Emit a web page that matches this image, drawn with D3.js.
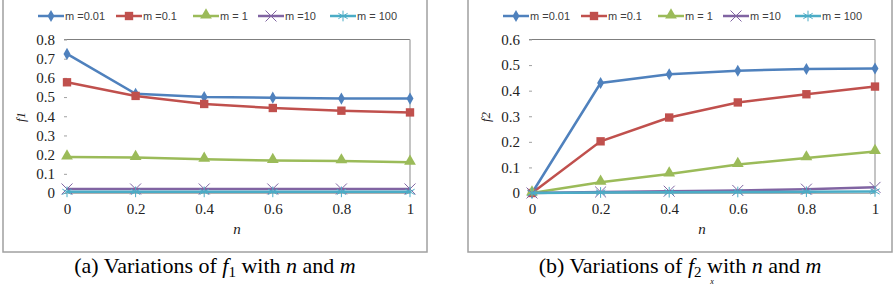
<!DOCTYPE html>
<html>
<head>
<meta charset="utf-8">
<script src="https://cdn.jsdelivr.net/npm/d3@7"></script>
<style>
  body { margin: 0; background: #fff; }
  svg { display: block; }
</style>
</head>
<body>
<div id="chart"></div>
<script>
// x values (n)
const nValues = [0, 0.2, 0.4, 0.6, 0.8, 1];
const xTickLabels = ["0", "0.2", "0.4", "0.6", "0.8", "1"];

// legend names
const seriesNames = ["m =0.01", "m =0.1", "m = 1", "m =10", "m = 100"];

// f1 values, one array per m
const f1_m001 = [0.725, 0.517, 0.500, 0.497, 0.492, 0.492];
const f1_m01  = [0.577, 0.506, 0.464, 0.443, 0.429, 0.420];
const f1_m1   = [0.187, 0.185, 0.176, 0.169, 0.167, 0.160];
const f1_m10  = [0.021, 0.021, 0.021, 0.021, 0.021, 0.021];
const f1_m100 = [0.006, 0.006, 0.006, 0.006, 0.006, 0.006];

// f2 values, one array per m
const f2_m001 = [0, 0.430, 0.464, 0.478, 0.485, 0.487];
const f2_m01  = [0, 0.202, 0.295, 0.354, 0.386, 0.416];
const f2_m1   = [0, 0.042, 0.074, 0.111, 0.137, 0.162];
const f2_m10  = [0, 0.004, 0.007, 0.010, 0.015, 0.022];
const f2_m100 = [0, 0.002, 0.003, 0.004, 0.005, 0.006];

const yTicksF1 = [0, 0.1, 0.2, 0.3, 0.4, 0.5, 0.6, 0.7, 0.8];
const yTicksF2 = [0, 0.1, 0.2, 0.3, 0.4, 0.5, 0.6];

const colors = ["#4F81BD", "#C0504D", "#9BBB59", "#8064A2", "#4BACC6"];

const SERIF = "Liberation Serif";
const SANS = "Liberation Sans";

const w = 893;
const h = 285;

const svg = d3.select("#chart")
              .append("svg")
              .attr("width", w)
              .attr("height", h);

function drawMarker(g, i, x, y, color) {
  // excel style markers
  if (i == 0) {
    g.append("path").attr("d", d3.symbol().type(d3.symbolDiamond).size(42)())
     .attr("transform", "translate(" + x + "," + y + ")").attr("fill", color);
  } else if (i == 1) {
    g.append("path").attr("d", d3.symbol().type(d3.symbolSquare).size(70)())
     .attr("transform", "translate(" + x + "," + y + ")").attr("fill", color);
  } else if (i == 2) {
    g.append("path").attr("d", d3.symbol().type(d3.symbolTriangle).size(60)())
     .attr("transform", "translate(" + x + "," + (y - 1) + ")").attr("fill", color);
  } else if (i == 3) {
    g.append("path").attr("d", d3.symbol().type(d3.symbolTimes).size(80)())
     .attr("transform", "translate(" + x + "," + y + ")")
     .attr("fill", "none").attr("stroke", color).attr("stroke-width", 1);
  } else {
    g.append("path").attr("d", d3.symbol().type(d3.symbolAsterisk).size(80)())
     .attr("transform", "translate(" + x + "," + y + ")")
     .attr("fill", "none").attr("stroke", color).attr("stroke-width", 1);
  }
}

function drawPanel(offset, series, yTicks, yMax, sub, caption) {
  const g = svg.append("g").attr("transform", "translate(" + offset + ",0)");

  // outer frame
  g.append("rect")
   .attr("x", 3).attr("y", -2)
   .attr("width", 424).attr("height", 254)
   .attr("fill", "none").attr("stroke", "#a0a0a0").attr("stroke-width", 1.5);

  const xScale = d3.scaleLinear().domain([0, 1]).range([67, 410]);
  const yScale = d3.scaleLinear().domain([0, yMax]).range([193, 39.5]);

  // top gridline + right axis line
  g.append("line")
   .attr("x1", 64).attr("x2", xScale(1))
   .attr("y1", yScale(yMax)).attr("y2", yScale(yMax))
   .attr("stroke", "#7f7f7f").attr("stroke-width", 1);
  g.append("line")
   .attr("x1", xScale(1)).attr("x2", xScale(1))
   .attr("y1", yScale(yMax)).attr("y2", yScale(0))
   .attr("stroke", "#b0b0b0").attr("stroke-width", 1.5);

  // y axis: labels + little dashes, no domain line
  const yAxis = d3.axisLeft(yScale)
                  .tickValues(yTicks)
                  .tickSize(3)
                  .tickPadding(9)
                  .tickFormat(d3.format("~g"));
  const ya = g.append("g")
              .attr("transform", "translate(" + xScale(0) + ",0)")
              .call(yAxis)
              .attr("font-family", SERIF)
              .attr("font-size", 15);
  ya.select(".domain").remove();
  ya.selectAll("line").attr("stroke", "#a0a0a0");
  ya.selectAll("text").attr("fill", "#222");

  // x axis labels
  const xAxis = d3.axisBottom(xScale)
                  .tickValues(nValues)
                  .tickSize(0)
                  .tickPadding(10)
                  .tickFormat((d, i) => xTickLabels[i]);
  const xa = g.append("g")
              .attr("transform", "translate(0," + yScale(0) + ")")
              .call(xAxis)
              .attr("font-family", SERIF)
              .attr("font-size", 15);
  xa.select(".domain").attr("stroke", "#b0b0b0");
  xa.selectAll("text").attr("fill", "#222");

  // series lines and markers
  const line = d3.line()
                 .x((d, i) => xScale(nValues[i]))
                 .y(d => yScale(d));
  series.forEach(function(vals, i) {
    g.append("path")
     .attr("d", line(vals))
     .attr("fill", "none")
     .attr("stroke", colors[i])
     .attr("stroke-width", 2.5);
    vals.forEach(function(v, j) {
      drawMarker(g, i, xScale(nValues[j]), yScale(v), colors[i]);
    });
  });

  // legend
  const legendX = [38, 116, 193, 258, 330];
  seriesNames.forEach(function(name, i) {
    const lx = legendX[i];
    g.append("line")
     .attr("x1", lx).attr("x2", lx + 26)
     .attr("y1", 16).attr("y2", 16)
     .attr("stroke", colors[i]).attr("stroke-width", 2.5);
    drawMarker(g, i, lx + 13, 16, colors[i]);
    g.append("text")
     .attr("font-family", SANS)
     .attr("x", lx + 27).attr("y", 20)
     .attr("font-size", 11)
     .attr("fill", "#404040")
     .text(name);
  });

  // axis titles
  const yt = g.append("text")
              .attr("font-family", SERIF)
              .attr("transform", "translate(25,117) rotate(-90)")
              .attr("text-anchor", "middle")
              .attr("font-size", 13)
              .attr("font-style", "italic")
              .attr("fill", "#222");
  yt.append("tspan").text("f");
  yt.append("tspan").text(sub);

  g.append("text")
   .attr("font-family", SERIF)
   .attr("x", 237).attr("y", 234)
   .attr("text-anchor", "middle")
   .attr("font-size", 15)
   .attr("font-style", "italic")
   .attr("fill", "#222")
   .text("n");

  // caption below the frame
  const cap = g.append("text")
               .attr("font-family", SERIF)
               .attr("x", 215).attr("y", 273)
               .attr("text-anchor", "middle")
               .attr("font-size", 22)
               .attr("fill", "#000");
  cap.append("tspan").text(caption + " Variations of ");
  cap.append("tspan").attr("font-style", "italic").text("f");
  cap.append("tspan").attr("dy", 4).attr("font-size", 15).text(sub);
  cap.append("tspan").attr("dy", -4).text(" with ");
  cap.append("tspan").attr("font-style", "italic").text("n");
  cap.append("tspan").text(" and ");
  cap.append("tspan").attr("font-style", "italic").text("m");
}

drawPanel(0, [f1_m001, f1_m01, f1_m1, f1_m10, f1_m100], yTicksF1, 0.8, "1", "(a)");
drawPanel(465, [f2_m001, f2_m01, f2_m1, f2_m10, f2_m100], yTicksF2, 0.6, "2", "(b)");

// small glyph at the very bottom under the right caption
svg.append("text")
   .attr("font-family", SERIF)
   .attr("x", 712).attr("y", 284)
   .attr("text-anchor", "middle")
   .attr("font-size", 8)
   .attr("font-style", "italic")
   .text("x");
</script>
</body>
</html>
